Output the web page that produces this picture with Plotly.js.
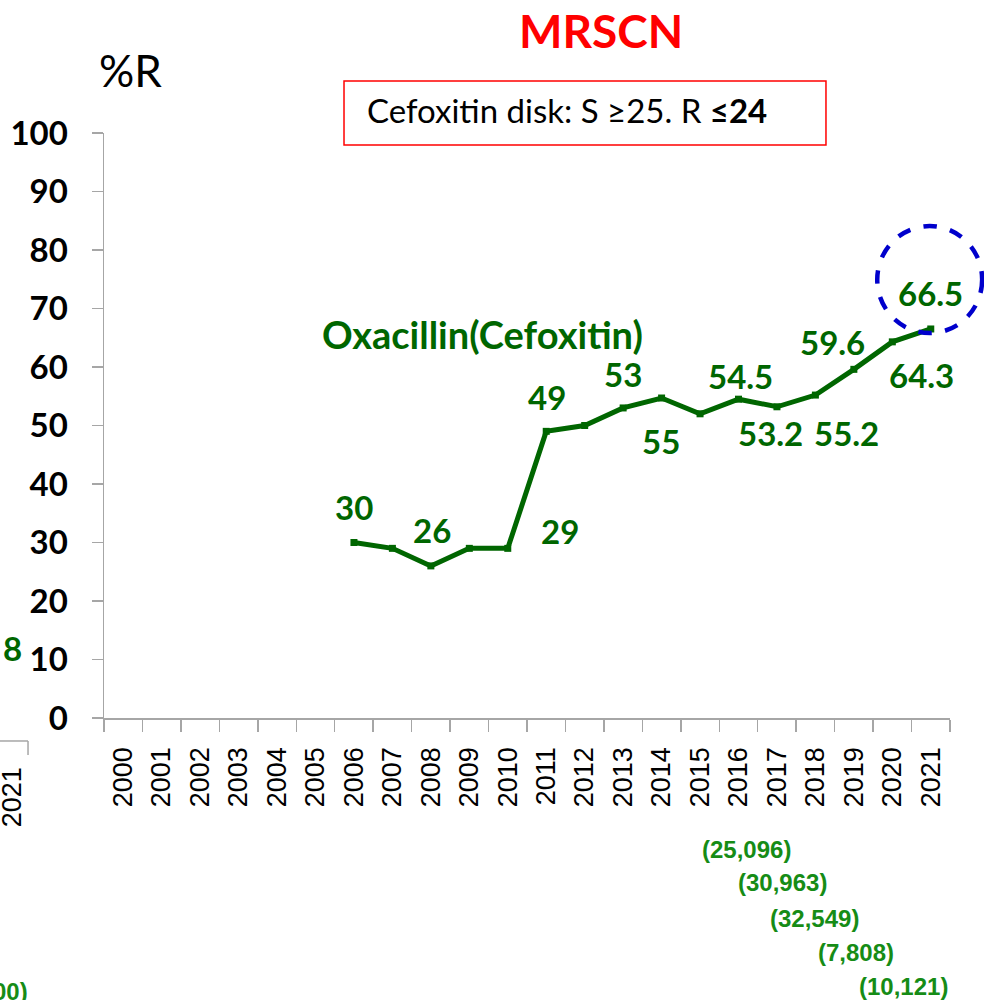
<!DOCTYPE html>
<html>
<head>
<meta charset="utf-8">
<script src="https://cdn.plot.ly/plotly-3.0.1.min.js"></script>
<style>html,body{margin:0;padding:0;background:#fff;}#chart{width:984px;height:1000px;}</style>
</head>
<body>
<div id="chart"></div>
<script>
// ---- data ----
var categories = ['2000','2001','2002','2003','2004','2005','2006','2007','2008','2009','2010',
  '2011','2012','2013','2014','2015','2016','2017','2018','2019','2020','2021'];
var years = ['2006','2007','2008','2009','2010','2011','2012','2013','2014','2015','2016','2017','2018','2019','2020','2021'];
var resistance = [30, 29, 26, 29, 29, 49, 50, 53, 54.7, 52, 54.5, 53.2, 55.2, 59.6, 64.3, 66.5];
var valueLabels = ['30','26','29','49','53','55','54.5','53.2','55.2','59.6','64.3','66.5'];
var labelX = [6.0, 8.02, 11.36, 11.01, 13.0, 13.98, 16.05, 16.84, 18.82, 18.45, 20.76, 21.0];
var labelY = [36.0, 32.1, 32.0, 54.9, 58.8, 47.4, 58.5, 48.8, 48.8, 64.3, 58.7, 72.6];
var seriesName = 'Oxacillin(Cefoxitin)';
var isolateCounts = ['(25,096)','(30,963)','(32,549)','(7,808)','(10,121)'];
var countX = [0.7589, 0.802, 0.8404, 0.8889, 0.9456];
var countY = [-0.2256, -0.282, -0.3419, -0.4017, -0.4598];
var titleText = 'MRSCN';
var yTitle = '%R';
var boxText = 'Cefoxitin disk: S ≥25. R <b>≤24</b>';

var green = '#006600';
var countGreen = '#168c16';
var gray = '#a6a6a6';
var labelFont = {family: 'Lato, "Open Sans", sans-serif', size: 33, color: green, weight: 'bold'};

var annotations = [];
for (var i = 0; i < valueLabels.length; i++) {
  annotations.push({xref: 'x', yref: 'y', x: labelX[i], y: labelY[i], text: '<b>' + valueLabels[i] + '</b>',
    showarrow: false, xanchor: 'center', yanchor: 'middle', font: labelFont});
}
annotations.push({xref: 'x', yref: 'y', x: 9.34, y: 65.7, text: '<b>' + seriesName + '</b>',
  showarrow: false, xanchor: 'center', yanchor: 'middle',
  font: {family: 'Lato, "Open Sans", sans-serif', size: 38, color: green, weight: 'bold'}});
for (var j = 0; j < isolateCounts.length; j++) {
  annotations.push({xref: 'paper', yref: 'paper', x: countX[j], y: countY[j], text: '<b>' + isolateCounts[j] + '</b>',
    showarrow: false, xanchor: 'center', yanchor: 'middle',
    font: {family: '"Liberation Sans Narrow", "Liberation Sans", Arial, sans-serif', size: 24, color: countGreen}});
}
annotations.push({xref: 'paper', yref: 'paper', x: 0.5875, y: 1.176, text: '<b>' + titleText + '</b>', showarrow: false,
  xanchor: 'center', yanchor: 'middle', font: {family: 'Lato, sans-serif', size: 46, color: '#ff0000'}});
annotations.push({xref: 'paper', yref: 'paper', x: -0.0083, y: 1.108, text: yTitle, showarrow: false,
  xanchor: 'left', yanchor: 'middle', font: {family: 'Lato, sans-serif', size: 44, color: '#000'}});
annotations.push({xref: 'paper', yref: 'paper', x: 0.3085, y: 1.0393, text: boxText, showarrow: false,
  xanchor: 'left', yanchor: 'middle', font: {family: 'Lato, sans-serif', size: 33, color: '#000'}});
// fragments of the neighbouring (cropped) chart on the left
annotations.push({xref: 'paper', yref: 'paper', x: -0.1087, y: 0.1197, text: '<b>8</b>', showarrow: false,
  xanchor: 'center', yanchor: 'middle', font: labelFont});
annotations.push({xref: 'paper', yref: 'paper', x: -0.1085, y: -0.135, text: '2021', textangle: -90, showarrow: false,
  xanchor: 'center', yanchor: 'middle', font: {family: 'Arial, "Liberation Sans", sans-serif', size: 27, color: '#000'}});
annotations.push({xref: 'paper', yref: 'paper', x: -0.0875, y: -0.4667, text: '<b>00)</b>', showarrow: false,
  xanchor: 'right', yanchor: 'middle',
  font: {family: '"Liberation Sans Narrow", "Liberation Sans", Arial, sans-serif', size: 24, color: countGreen}});

var shapes = [
  {type: 'rect', xref: 'paper', yref: 'paper', x0: 0.2837, x1: 0.8534, y0: 0.9795, y1: 1.0889,
    line: {color: '#ff0000', width: 1.5}, fillcolor: 'rgba(0,0,0,0)'},
  {type: 'circle', xref: 'paper', yref: 'paper', x0: 0.914, x1: 1.038, y0: 0.658, y1: 0.841,
    line: {color: '#0000cc', width: 4.5, dash: 'dash'}},
  {type: 'line', xref: 'paper', yref: 'paper', x0: -0.123, x1: -0.0898, y0: -0.0393, y1: -0.0393,
    line: {color: gray, width: 1.5}},
  {type: 'line', xref: 'paper', yref: 'paper', x0: -0.0898, x1: -0.0898, y0: -0.0393, y1: -0.0632,
    line: {color: gray, width: 1.5}}
];

var trace = {
  type: 'scatter', mode: 'lines+markers', x: years, y: resistance, name: seriesName,
  line: {color: green, width: 5}, marker: {symbol: 'square', size: 7, color: green},
  hoverinfo: 'x+y', cliponaxis: false
};

var layout = {
  width: 984, height: 1000,
  margin: {l: 104, r: 34, t: 133, b: 282},
  paper_bgcolor: '#fff', plot_bgcolor: '#fff',
  showlegend: false,
  xaxis: {
    type: 'category', categoryorder: 'array', categoryarray: categories, range: [-0.5, 21.5],
    tickmode: 'linear', tick0: 0, dtick: 1,
    tickson: 'boundaries', ticks: 'outside', ticklen: 12, tickcolor: gray, tickwidth: 1.5,
    showline: true, linecolor: gray, linewidth: 1.5, showgrid: false, zeroline: false,
    tickangle: -90, tickfont: {family: 'Arial, "Liberation Sans", sans-serif', size: 27, color: '#000'},
    ticklabelstandoff: 17
  },
  yaxis: {
    range: [0, 100], dtick: 10, tick0: 0, ticks: 'outside', ticklen: 11, tickcolor: gray, tickwidth: 1.5,
    showline: true, linecolor: gray, linewidth: 1.5, showgrid: false, zeroline: false,
    tickfont: {family: 'Lato, sans-serif', size: 33, color: '#000', weight: 'bold'},
    ticklabelstandoff: 17
  },
  annotations: annotations,
  shapes: shapes
};

Plotly.newPlot('chart', [trace], layout, {staticPlot: true});
</script>
</body>
</html>
